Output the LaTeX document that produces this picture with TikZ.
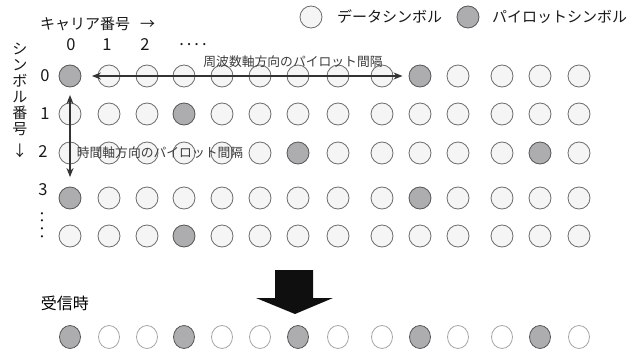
\documentclass[tikz,border=0pt]{standalone}
\usepackage{fontspec}
\newfontfamily\jpfont{Noto Sans CJK JP}
\usepackage{tikz}
\usetikzlibrary{arrows.meta,calc,positioning,shapes.geometric}
\definecolor{datafill}{HTML}{F4F5F4}
\definecolor{dataline}{HTML}{6C6C6C}
\definecolor{pilotfill}{HTML}{ADADB0}
\definecolor{pilotline}{HTML}{555555}
\definecolor{rxline}{HTML}{A6A6A6}
\definecolor{arrowgray}{HTML}{333333}
\definecolor{labelgray}{HTML}{3C3C3C}

\begin{document}
\begin{tikzpicture}[x=1pt, y=-1pt,
    datasym/.style={circle, draw=dataline, fill=datafill, line width=0.8pt, minimum size=22pt, inner sep=0pt},
    pilotsym/.style={datasym, draw=pilotline, fill=pilotfill},
    rxdata/.style={ellipse, draw=rxline, fill=white, line width=0.8pt, minimum width=21pt, minimum height=23pt, inner sep=0pt},
    rxpilot/.style={rxdata, draw=pilotline, fill=pilotfill},
    hdr/.style={font=\jpfont\fontsize{15}{16}\selectfont, text=black!90, inner sep=0pt},
    idx/.style={font=\jpfont\fontsize{16.5}{17}\selectfont, text=black!90, inner sep=0pt},
    gaplabel/.style={font=\jpfont\fontsize{12.8}{14}\selectfont, text=labelgray, inner sep=0pt},
    gap/.style={{Stealth[length=9pt,width=7pt]}-{Stealth[length=9pt,width=7pt]}, color=arrowgray, line width=1.3pt}]
    \useasboundingbox (0,0) rectangle (638,351);
    \node[datasym] (legdata) at (311,17) {};
    \node[hdr, anchor=west] (legdatatxt) at (337,17) {データシンボル};
    \node[pilotsym] (legpilot) at (468,17) {};
    \node[hdr, anchor=west] (legpilottxt) at (492,17) {パイロットシンボル};
    \node[hdr, anchor=west] (carrier) at (40,24) {キャリア番号\hspace{10pt}→};
    \node[hdr, anchor=north, align=center] (symbol) at (20,43) {シ\\ン\\ボ\\ル\\番\\号\\[6pt]↓};
    \foreach \cx/\n in {71/0, 107/1, 145/2}
      \node[idx] (cn-\n) at (\cx,45) {\n};
    \node[idx] (cdots) at (193,45) {.\hspace{3pt}.\hspace{3pt}.\hspace{3pt}.};
    \foreach \ry/\n/\lx in {76/0/45, 114/1/45, 152/2/43, 190/3/43}
      \node[idx] (rn-\n) at (\lx,\ry) {\n};
    \node[idx, rotate=-90] (rdots) at (42,225) {.\hspace{3pt}.\hspace{3pt}.\hspace{3pt}.};
    \foreach \r/\ry/\pa/\pb in {0/76/0/9, 1/114/3/-1, 2/153/6/12, 3/198/0/9, 4/236/3/-1}{
      \foreach \cx [count=\c from 0] in {70,109,147,184,222,260,298,338,382,420,458,502,540,579}{
        \pgfmathtruncatemacro\ispilot{(\c==\pa)||(\c==\pb)}
        \ifnum\ispilot=1
          \node[pilotsym] (s-\r-\c) at (\cx,\ry) {};
        \else
          \node[datasym] (s-\r-\c) at (\cx,\ry) {};
        \fi
      }
    }
    \draw[gap] ($(s-0-0.east)!0.65!(s-0-1.west)$) -- ($(s-0-8.east)!0.6!(s-0-9.west)$);
    \draw[gap] ($(s-0-0.south)!0.5!(s-1-0.north)$) -- ($(s-2-0.south)!0.57!(s-3-0.north)$);
    \node[gaplabel] (flabel) at (293,62) {周波数軸方向のパイロット間隔};
    \node[gaplabel] (tlabel) at (160,153) {時間軸方向のパイロット間隔};
    \fill[black!94] (275,270) -- (313,270) -- (313,298) -- (333,298) -- (295,314) -- (256,298) -- (275,298) -- cycle;
    \node[font=\jpfont\fontsize{16}{17}\selectfont, inner sep=0pt] (rx) at (65,303) {受信時};
    \foreach \cx [count=\c from 0] in {70,109,147,184,222,260,298,338,382,420,458,502,540,579}{
      \pgfmathtruncatemacro\ispilot{mod(\c,3)==0}
      \ifnum\ispilot=1
        \node[rxpilot] (rx-\c) at (\cx,337) {};
      \else
        \node[rxdata] (rx-\c) at (\cx,337) {};
      \fi
    }
\end{tikzpicture}
\end{document}
